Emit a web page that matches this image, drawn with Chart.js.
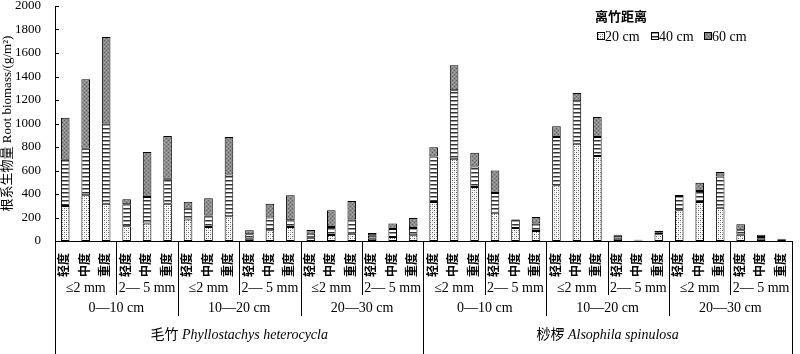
<!DOCTYPE html>
<html>
<head>
<meta charset="utf-8">
<script src="https://cdn.jsdelivr.net/npm/chart.js@4.4.1/dist/chart.umd.min.js"></script>
<style>
  html, body { margin: 0; padding: 0; background: #fff; }
  #wrap { width: 800px; height: 354px; position: relative; }
</style>
</head>
<body>
<div id="wrap"><canvas id="chart"></canvas></div>
<script>
// 数据
const levels = ['轻度', '中度', '重度'];
const diameters = ['≤2 mm', '2— 5 mm'];
const depths = ['0—10 cm', '10—20 cm', '20—30 cm'];
const species = [['毛竹', 'Phyllostachys heterocycla'], ['桫椤', 'Alsophila spinulosa']];
const seriesNames = ['20 cm', '40 cm', '60 cm'];

const d20 = [298, 389, 318, 125, 148, 318, 184, 119, 210, 20, 91, 119, 28, 51, 62, 20, 34, 48,
             332, 701, 460, 241, 111, 85, 474, 828, 723, 20, 4, 57, 261, 332, 284, 54, 20, 8];
const d40 = [394, 397, 681, 187, 227, 212, 91, 97, 355, 37, 108, 57, 34, 68, 120, 28, 68, 63,
             388, 581, 175, 168, 70, 63, 411, 361, 162, 25, 3, 14, 122, 94, 266, 37, 14, 6];
const d60 = [358, 590, 737, 43, 382, 364, 60, 147, 320, 34, 119, 213, 32, 142, 158, 20, 46, 85,
             77, 213, 117, 190, 5, 56, 91, 71, 170, 9, 4, 17, 9, 70, 37, 51, 20, 6];

const yMin = 0, yMax = 2000, yStep = 200;

const labels = [];
species.forEach(() => depths.forEach(() => diameters.forEach(() => levels.forEach(l => labels.push(l)))));

const serif = "'Liberation Serif', 'Times New Roman', 'Noto Sans CJK SC', serif";

// 填充图案
function makePattern(kind) {
  const c = document.createElement('canvas');
  c.width = 4; c.height = 4;
  const g = c.getContext('2d');
  if (kind === 0) {
    g.fillStyle = '#fff'; g.fillRect(0, 0, 4, 4);
    g.fillStyle = '#5a5a5a';
    g.fillRect(0, 0, 1, 1); g.fillRect(2, 2, 1, 1);
    g.fillStyle = '#bbb';
    g.fillRect(2, 0, 1, 1); g.fillRect(0, 2, 1, 1);
  } else if (kind === 1) {
    g.fillStyle = '#fff'; g.fillRect(0, 0, 4, 4);
    g.fillStyle = '#333'; g.fillRect(0, 0, 4, 1);
    g.fillStyle = '#999'; g.fillRect(0, 1, 4, 1);
  } else {
    g.fillStyle = '#8c8c8c'; g.fillRect(0, 0, 4, 4);
    g.fillStyle = '#5e5e5e';
    g.fillRect(0, 0, 1, 1); g.fillRect(2, 2, 1, 1);
    g.fillStyle = '#aaa';
    g.fillRect(2, 0, 1, 1); g.fillRect(0, 2, 1, 1);
  }
  return g.createPattern(c, 'repeat');
}
const fills = [makePattern(0), makePattern(1), makePattern(2)];

// 分组标签, 分隔线, 刻度, 图例
const extras = {
  id: 'extras',
  afterDraw(chart) {
    const ctx = chart.ctx;
    const x = chart.scales.x, y = chart.scales.y, area = chart.chartArea;
    const half = (x.getPixelForValue(1) - x.getPixelForValue(0)) / 2;
    const edge = i => x.getPixelForValue(i) - half;
    ctx.save();
    ctx.strokeStyle = '#000';
    ctx.lineWidth = 1;

    // y 轴内向刻度
    y.ticks.forEach(t => {
      const py = Math.round(y.getPixelForValue(t.value)) + 0.5;
      ctx.beginPath();
      ctx.moveTo(area.left, py);
      ctx.lineTo(area.left + 4, py);
      ctx.stroke();
    });

    // 分隔线
    for (let i = 0; i <= labels.length; i += 3) {
      let bottom = 295;
      if (i % 6 === 0) bottom = 316;
      if (i % 18 === 0) bottom = 354;
      const px = Math.round(edge(i)) + 0.5;
      ctx.beginPath();
      ctx.moveTo(px, area.bottom);
      ctx.lineTo(px, bottom);
      ctx.stroke();
    }

    ctx.fillStyle = '#000';
    ctx.textAlign = 'center';
    ctx.textBaseline = 'middle';
    ctx.font = '14px ' + serif;
    // 径级
    for (let g = 0; g < labels.length / 3; g++) {
      const cx = (edge(g * 3) + edge(g * 3 + 3)) / 2;
      ctx.fillText(diameters[g % 2], cx, 288);
    }
    // 土层
    for (let g = 0; g < labels.length / 6; g++) {
      const cx = (edge(g * 6) + edge(g * 6 + 6)) / 2;
      ctx.fillText(depths[g % 3], cx, 308);
    }
    // 物种
    species.forEach((s, k) => {
      const cx = (edge(k * 18) + edge(k * 18 + 18)) / 2;
      const f1 = '14px ' + serif, f2 = 'italic 14px ' + serif;
      ctx.font = f1;
      const w1 = ctx.measureText(s[0] + ' ').width;
      ctx.font = f2;
      const w2 = ctx.measureText(s[1]).width;
      const sx = cx - (w1 + w2) / 2;
      ctx.textAlign = 'left';
      ctx.font = f1;
      ctx.fillText(s[0] + ' ', sx, 335);
      ctx.font = f2;
      ctx.fillText(s[1], sx + w1, 335);
      ctx.textAlign = 'center';
    });

    // 图例
    ctx.font = 'bold 13px ' + serif;
    ctx.fillText('离竹距离', 621, 18);
    ctx.textAlign = 'left';
    ctx.font = '14px ' + serif;
    const lx = [597, 651, 704];
    seriesNames.forEach((n, i) => {
      ctx.fillStyle = fills[i];
      ctx.fillRect(lx[i], 32, 7, 7);
      ctx.strokeStyle = '#000';
      ctx.strokeRect(lx[i] + 0.5, 32.5, 7, 7);
      ctx.fillStyle = '#000';
      ctx.fillText(n, lx[i] + 8, 37);
    });
    ctx.restore();
  }
};

new Chart(document.getElementById('chart'), {
  type: 'bar',
  data: {
    labels: labels,
    datasets: [d20, d40, d60].map((d, i) => ({
      label: seriesNames[i],
      data: d,
      backgroundColor: fills[i],
      borderColor: '#000',
      borderWidth: 1,
      borderSkipped: false,
      barPercentage: 0.42,
      categoryPercentage: 1
    }))
  },
  options: {
    responsive: true,
    maintainAspectRatio: false,
    animation: false,
    layout: { padding: { top: 6, right: 1 } },
    plugins: { legend: { display: false }, tooltip: { enabled: false } },
    scales: {
      x: {
        stacked: true,
        grid: { display: false },
        border: { display: true, color: '#000', width: 1 },
        ticks: {
          autoSkip: false,
          minRotation: 90,
          maxRotation: 90,
          padding: 4,
          color: '#000',
          font: { family: serif, size: 12, weight: 'bold' }
        },
        afterFit(scale) { scale.height = 113; }
      },
      y: {
        stacked: true,
        min: yMin,
        max: yMax,
        grid: { display: false },
        border: { display: true, color: '#000', width: 1 },
        ticks: {
          stepSize: yStep,
          padding: 6,
          color: '#000',
          font: { family: serif, size: 13 },
          callback: v => String(v)
        },
        title: {
          display: true,
          text: '根系生物量 Root biomass/(g/m²)',
          color: '#000',
          font: { family: serif, size: 13 },
          padding: { top: 0, bottom: 0 }
        },
        afterFit(scale) {
          scale.width = 55;
          scale.paddingTop = 0;
          scale.paddingBottom = 0;
        }
      }
    }
  },
  plugins: [extras]
});
</script>
</body>
</html>
